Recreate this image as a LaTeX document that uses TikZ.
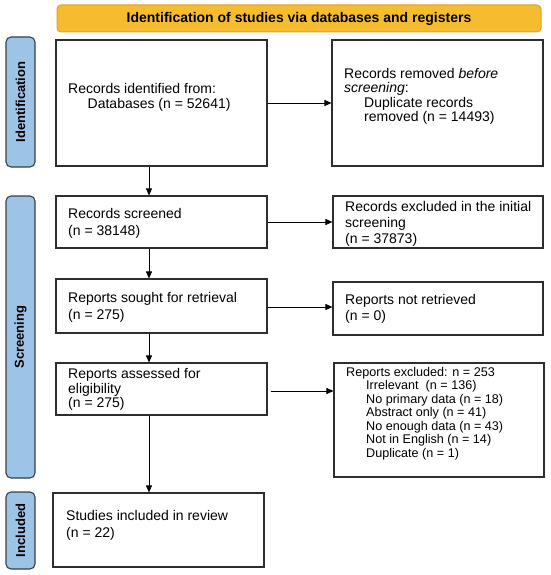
\documentclass[tikz,border=0pt]{standalone}
\usepackage{fontspec}
\setmainfont{Liberation Sans}
\usetikzlibrary{arrows.meta}
\definecolor{bannerfill}{HTML}{F6BC30}
\definecolor{bannerdraw}{HTML}{DDA22A}
\definecolor{sidefill}{HTML}{9DC3E6}
\definecolor{sidedraw}{HTML}{35404B}
\definecolor{boxdraw}{HTML}{2E2E2E}
\tikzset{
  stagebox/.style={draw=boxdraw, line width=1.1pt, inner sep=0pt},
  boxtext/.style={inner sep=0pt, anchor=west, align=left, font=\fontsize{14}{15.5}\selectfont},
  smalltext/.style={inner sep=0pt, anchor=west, align=left, font=\fontsize{12.6}{13.5}\selectfont},
  sidebar/.style={draw=sidedraw, line width=1.1pt, fill=sidefill, rounded corners=5pt, rotate=90,
    minimum height=29pt, inner sep=0pt, font=\bfseries\fontsize{13}{15}\selectfont},
  arr/.style={-{Triangle[length=7pt,width=6pt]}, line width=0.8pt, draw=black},
}
\begin{document}
\begin{tikzpicture}[x=1pt,y=-1pt]
\useasboundingbox (0,0) rectangle (550,575);
% banner
\node[draw=bannerdraw, line width=1pt, fill=bannerfill, rounded corners=4pt, minimum width=484pt, minimum height=27pt,
  inner sep=0pt, font=\bfseries\fontsize{14}{16}\selectfont] (banner) at (299,18.5) {Identification of studies via databases and registers};
% side bars
\node[sidebar, minimum width=130pt] (sideid) at (20.5,102) {Identification};
\node[sidebar, minimum width=282pt] (sidescr) at (20.5,337) {Screening};
\node[sidebar, minimum width=77pt] (sideinc) at (20.5,530.5) {Included};
% boxes
\node[stagebox, minimum width=211pt, minimum height=126pt] (b1) at (161.5,103) {};
\node[stagebox, minimum width=211pt, minimum height=126pt] (b2) at (437.5,103) {};
\node[stagebox, minimum width=211pt, minimum height=52pt] (b3) at (161.5,222) {};
\node[stagebox, minimum width=210pt, minimum height=52pt] (b4) at (438,222) {};
\node[stagebox, minimum width=211pt, minimum height=54pt] (b5) at (161.5,306) {};
\node[stagebox, minimum width=210pt, minimum height=53pt] (b6) at (438,308.5) {};
\node[stagebox, minimum width=211pt, minimum height=52pt] (b7) at (161.5,389) {};
\node[stagebox, minimum width=210pt, minimum height=114pt] (b8) at (439,420) {};
\node[stagebox, minimum width=211pt, minimum height=74pt] (b9) at (158.5,530) {};
% texts
\node[boxtext, font=\fontsize{14}{15}\selectfont] (t1) at (68,97.5) {Records identified from:\\\hspace*{19.5pt}Databases (n = 52641)};
\node[boxtext, font=\fontsize{14}{14.5}\selectfont] (t2) at (344,96.5) {Records removed \textit{before}\\\textit{screening}:\\\hspace*{20pt}Duplicate records\\\hspace*{20pt}removed (n = 14493)};
\node[boxtext, font=\fontsize{14}{16.5}\selectfont] (t3) at (68,223.5) {Records screened\\(n = 38148)};
\node[boxtext, font=\fontsize{14}{16}\selectfont] (t4) at (345,224) {Records excluded in the initial\\screening\\(n = 37873)};
\node[boxtext, font=\fontsize{14}{16.5}\selectfont] (t5) at (68,307.5) {Reports sought for retrieval\\(n = 275)};
\node[boxtext, font=\fontsize{14}{16.5}\selectfont] (t6) at (345,309) {Reports not retrieved\\(n = 0)};
\node[boxtext, font=\fontsize{14}{14.5}\selectfont] (t7) at (68,389.5) {Reports assessed for\\eligibility\\(n = 275)};
\node[smalltext] (t8) at (346,413.5) {Reports excluded: n = 253\\\hspace*{20pt}Irrelevant~ (n = 136)\\\hspace*{20pt}No primary data (n = 18)\\\hspace*{20pt}Abstract only (n = 41)\\\hspace*{20pt}No enough data (n = 43)\\\hspace*{20pt}Not in English (n = 14)\\\hspace*{20pt}Duplicate (n = 1)};
\node[boxtext, font=\fontsize{14}{16.5}\selectfont] (t9) at (66,525.5) {Studies included in review\\(n = 22)};
% arrows
\coordinate (ax) at (149,0);
\draw[arr] (b1.east) -- (b2.west);
\draw[arr] (b3.east) -- (b4.west);
\draw[arr] ([yshift=-1pt]b5.east) -- ([yshift=-1pt]b5.east -| b6.west);
\draw[arr] ([xshift=3pt,yshift=-2pt]b7.east) -- ([yshift=-2pt]b7.east -| b8.west);
\draw[arr] (b1.south -| ax) -- (b3.north -| ax);
\draw[arr] (b3.south -| ax) -- (b5.north -| ax);
\draw[arr] (b5.south -| ax) -- (b7.north -| ax);
\draw[arr] (b7.south -| ax) -- (b9.north -| ax);
\end{tikzpicture}
\end{document}
